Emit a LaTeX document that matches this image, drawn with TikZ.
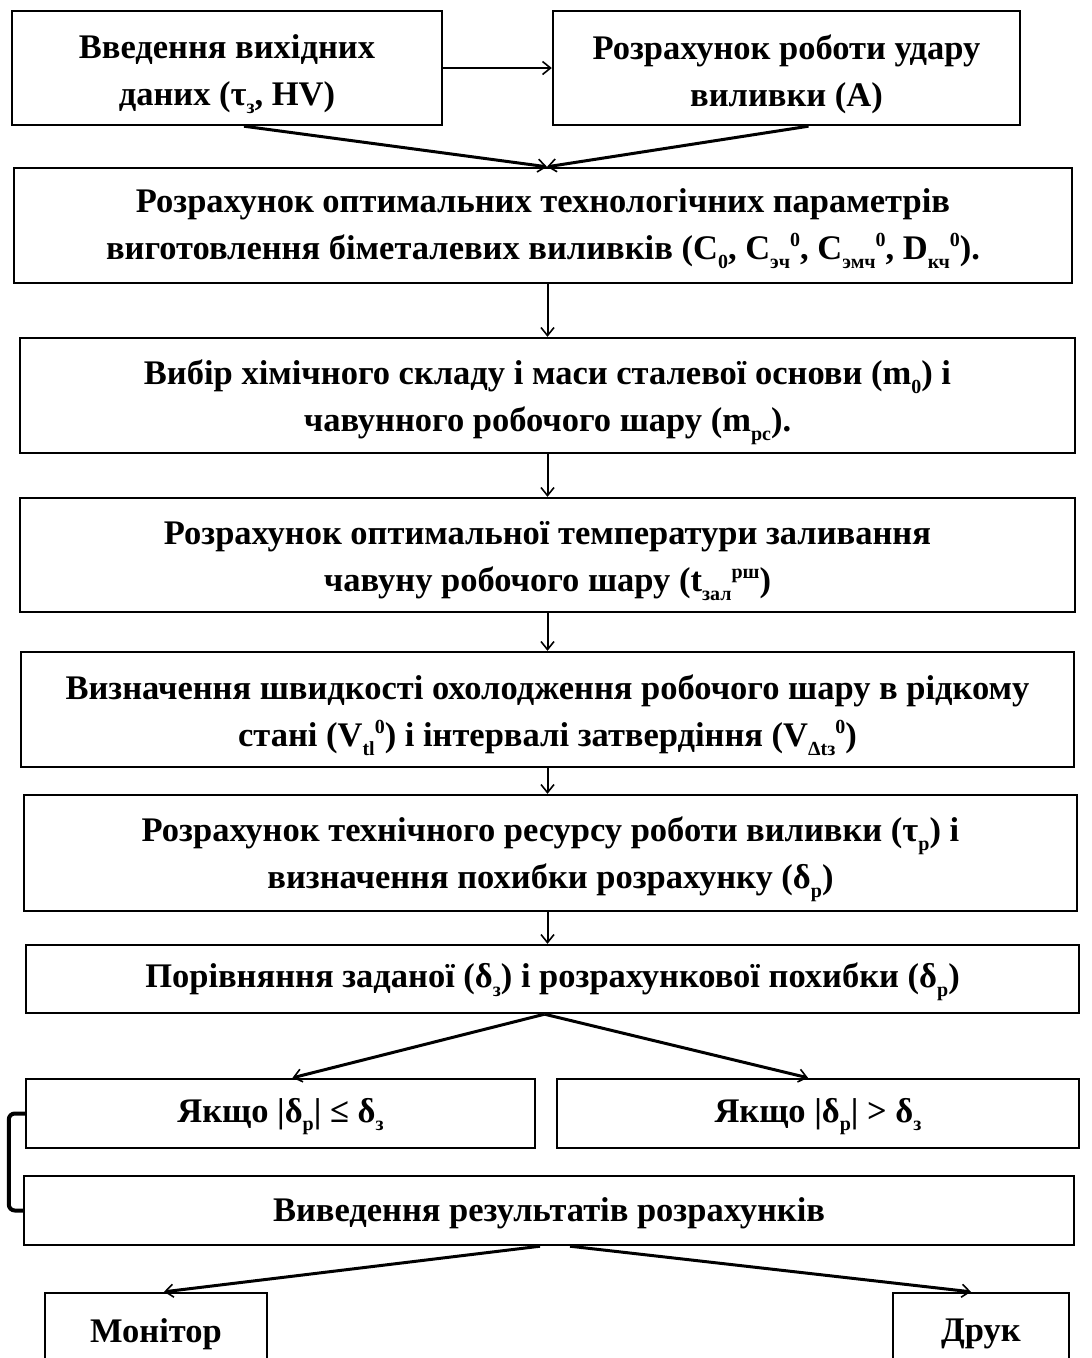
\documentclass[tikz,border=0pt]{standalone}
\usepackage{fontspec}
\setmainfont{Liberation Serif}
\usetikzlibrary{arrows.meta}
\newcommand\dn[1]{\raisebox{-0.25em}{\fontsize{20}{20}\selectfont #1}}
\newcommand\up[1]{\raisebox{0.38em}{\fontsize{20}{20}\selectfont #1}}
\tikzset{
  box/.style={draw, line width=2.4pt, inner sep=0pt},
  txt/.style={inner sep=0pt, align=center,
    font=\fontsize{34.5}{47}\selectfont\bfseries},
  conn/.style={line width=2pt, -{Straight Barb[length=8pt,width=13pt,line width=1.6pt]}},
  diag/.style={conn, line width=3pt},
  bracket/.style={line width=4pt, rounded corners=6pt},
}
\begin{document}
\begin{tikzpicture}[x=1pt,y=-1pt]
\fill[white] (0,0) rectangle (1092,1358);
\useasboundingbox (0,0) rectangle (1092,1358);
\clip (0,0) rectangle (1092,1358);

\node[box, minimum width=430, minimum height=114] (b1) at (227,68) {};
\node[box, minimum width=467, minimum height=114] (b2) at (786.5,68) {};
\node[box, minimum width=1058, minimum height=115] (b3) at (543,225.5) {};
\node[box, minimum width=1055, minimum height=115] (b4) at (547.5,395.5) {};
\node[box, minimum width=1055, minimum height=114] (b5) at (547.5,555) {};
\node[box, minimum width=1053, minimum height=115] (b6) at (547.5,709.5) {};
\node[box, minimum width=1053, minimum height=116] (b7) at (550.5,853) {};
\node[box, minimum width=1053, minimum height=68] (b8) at (552.5,979) {};
\node[box, minimum width=509, minimum height=69] (b9a) at (280.5,1113.5) {};
\node[box, minimum width=522, minimum height=69] (b9b) at (818,1113.5) {};
\node[box, minimum width=1050, minimum height=69] (b10) at (549,1210.5) {};
\node[box, minimum width=222, minimum height=76] (mon) at (156,1331) {};
\node[box, minimum width=176, minimum height=76] (druk) at (981,1331) {};

\node[txt] (t1) at ([yshift=-6]b1.center) {Введення вихідних\\даних (τ\dn{з}, HV)};
\node[txt] (t2) at ([yshift=-6]b2.center) {Розрахунок роботи удару\\виливки (А)};
\node[txt] (t3) at ([yshift=-3]b3.center)
  {Розрахунок оптимальних технологічних параметрів\\виготовлення біметалевих виливків (C\dn{0}, C\dn{эч}\up{0}, C\dn{эмч}\up{0}, D\dn{кч}\up{0}).};
\node[txt] (t4) at ([yshift=-7]b4.center)
  {Вибір хімічного складу і маси сталевої основи (m\dn{0}) і\\чавунного робочого шару (m\dn{рс}).};
\node[txt] (t5) at ([yshift=-6]b5.center)
  {Розрахунок оптимальної температури заливання\\чавуну робочого шару (t\dn{зал}\up{рш})};
\node[txt] (t6) at ([yshift=-6]b6.center)
  {Визначення швидкості охолодження робочого шару в рідкому\\стані (V\dn{tl}\up{0}) і інтервалі затвердіння (V\dn{Δtз}\up{0})};
\node[txt] (t7) at ([yshift=-6]b7.center)
  {Розрахунок технічного ресурсу роботи виливки (τ\dn{р}) і\\визначення похибки розрахунку (δ\dn{р})};
\node[txt] (t8) at ([yshift=-3]b8.center)
  {Порівняння заданої (δ\dn{з}) і розрахункової похибки (δ\dn{р})};
\node[txt] (t9a) at ([yshift=-3]b9a.center) {Якщо |δ\dn{р}| ≤ δ\dn{з}};
\node[txt] (t9b) at ([yshift=-3]b9b.center) {Якщо |δ\dn{р}| > δ\dn{з}};
\node[txt] (t10) at ([yshift=-3]b10.center) {Виведення результатів розрахунків};
\node[txt] (tmon) at ([yshift=-3]mon.center) {Монітор};
\node[txt] (tdruk) at ([yshift=-3]druk.center) {Друк};

\draw[conn] (b1.east) -- (b2.west);
\draw[diag] ([xshift=17]b1.south) -- ([xshift=4]b3.north);
\draw[diag] ([xshift=22]b2.south) -- ([xshift=4]b3.north);
\draw[conn] (b4.north |- b3.south) -- (b4.north);
\draw[conn] (b4.south) -- (b5.north);
\draw[conn] (b5.south) -- (b6.north);
\draw[conn] (b6.south) -- (b6.south |- b7.north);
\draw[conn] (b6.south |- b7.south) -- (b6.south |- b8.north);
\draw[diag] ([xshift=-8]b8.south) -- ([xshift=12]b9a.north);
\draw[diag] ([xshift=-8]b8.south) -- ([xshift=-10]b9b.north);
\draw[bracket] (b9a.west) -- ++(-16,0) |- (b10.west);
\draw[diag] ([xshift=-9]b10.south) -- ([xshift=8]mon.north);
\draw[diag] ([xshift=21]b10.south) -- ([xshift=-10]druk.north);
\end{tikzpicture}
\end{document}
